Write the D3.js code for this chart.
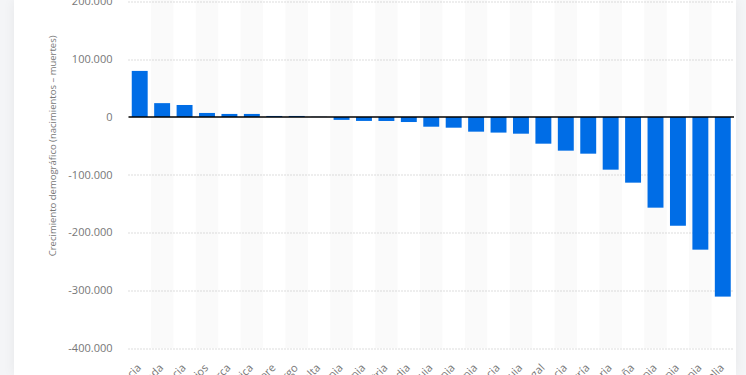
<!DOCTYPE html>
<html>
<head>
<meta charset="utf-8">
<script src="https://cdn.jsdelivr.net/npm/d3@7"></script>
<style>
  html, body { margin: 0; padding: 0; background: #f4f5f7; overflow: hidden; }
  #card { position: absolute; left: 14px; top: 0; width: 722px; height: 375px; background: #fff;
          box-shadow: 0 0 12px rgba(0,0,0,0.06); }
  svg { position: absolute; left: 0; top: 0; font-family: "Open Sans", sans-serif; }
</style>
</head>
<body>
<div id="card"></div>
<svg width="746" height="375"></svg>
<script>
var countries = ["Francia", "Irlanda", "Suecia", "Países Bajos", "Dinamarca", "Bélgica", "Chipre",
  "Luxemburgo", "Malta", "Eslovenia", "Estonia", "Austria", "Finlandia", "Eslovaquia", "Letonia",
  "Lituania", "Croacia", "Chequia", "Portugal", "Grecia", "Hungría", "Bulgaria", "España",
  "Rumania", "Polonia", "Alemania", "Italia"];
var growth = [79800, 24000, 20800, 7000, 5300, 5300, 1800, 1800, 300, -5000, -6800, -6900, -8700,
  -16800, -18500, -25400, -27000, -28900, -46200, -58300, -63500, -91200, -113700, -157000,
  -188300, -229700, -311000];
var yTicks = [200000, 100000, 0, -100000, -200000, -300000, -400000];
var yTitle = "Crecimiento demográfico (nacimientos – muertes)";

var svg = d3.select("svg"),
	margin = {top: 1.5, right: 12, bottom: 27, left: 128.5},
	width = svg.attr("width") - margin.left - margin.right,
	height = svg.attr("height") - margin.top - margin.bottom,
	g = svg.append("g").attr("transform", "translate(" + margin.left + "," + margin.top + ")");

var x = d3.scaleBand()
	.domain(countries)
	.range([0, width])
	.paddingInner(0.29)
	.paddingOuter(0.145);

var y = d3.scaleLinear()
	.domain([-400000, 200000])
	.range([height, 0]);

var fmt = function(d) { return d3.format(",")(d).replace(/,/g, ".").replace("−", "-"); };

// alternating column bands
g.append("g")
	.selectAll("rect")
	.data(countries.filter(function(d, i) { return i % 2 == 1; }))
	.enter().append("rect")
		.attr("x", function(d) { return x(d) - x.step() * x.paddingInner() / 2; })
		.attr("y", -margin.top)
		.attr("width", x.step())
		.attr("height", height + margin.top)
		.attr("fill", "#fafafa");

// grid
g.append("g")
	.selectAll("line")
	.data(yTicks.filter(function(d) { return d != 0; }))
	.enter().append("line")
		.attr("x1", 0)
		.attr("x2", width)
		.attr("y1", function(d) { return Math.round(y(d)) + 0.5; })
		.attr("y2", function(d) { return Math.round(y(d)) + 0.5; })
		.attr("stroke", "#bbb")
		.attr("stroke-dasharray", "1,2");

// y axis labels
g.append("g")
	.selectAll("text")
	.data(yTicks)
	.enter().append("text")
		.attr("x", -16)
		.attr("y", function(d) { return y(d); })
		.attr("dy", "0.35em")
		.attr("text-anchor", "end")
		.attr("font-size", 11)
		.attr("fill", "#777")
		.text(fmt);

svg.append("text")
	.attr("transform", "translate(56," + (margin.top + y(-50000)) + ") rotate(-90)")
	.attr("text-anchor", "middle")
	.attr("font-size", 9.5)
	.attr("fill", "#777")
	.text(yTitle);

// bars
g.append("g")
	.selectAll("rect")
	.data(countries)
	.enter().append("rect")
		.attr("x", function(d) { return x(d); })
		.attr("y", function(d, i) { return y(Math.max(0, growth[i])); })
		.attr("width", x.bandwidth())
		.attr("height", function(d, i) { return Math.abs(y(growth[i]) - y(0)); })
		.attr("fill", "#006de6");

// zero line
g.append("line")
	.attr("x1", 0)
	.attr("x2", width)
	.attr("y1", y(0))
	.attr("y2", y(0))
	.attr("stroke", "#000")
	.attr("stroke-width", 1.5);

// x labels
g.append("g")
	.selectAll("text")
	.data(countries)
	.enter().append("text")
		.attr("transform", function(d) {
			return "translate(" + (x(d) + x.bandwidth() / 2 + 2) + "," + (height + 20.5) + ") rotate(-45)";
		})
		.attr("text-anchor", "end")
		.attr("font-size", 11)
		.attr("fill", "#777")
		.text(function(d) { return d; });
</script>
</body>
</html>
